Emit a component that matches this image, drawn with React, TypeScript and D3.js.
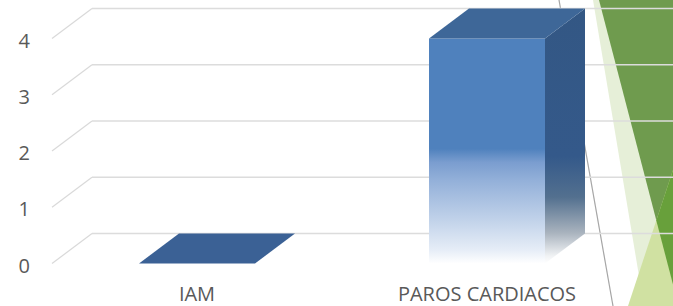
import React from "react";
import * as d3 from "d3";

const categories = ["IAM", "PAROS CARDIACOS"];
const values = [0, 4];
const yTicks = [0, 1, 2, 3, 4];

const W = 673;
const H = 306;
const DX = 40;
const DY = 30;

export default function App() {
  const x = d3.scaleBand<string>().domain(categories).range([52, 632]).paddingInner(0.6).paddingOuter(0.3);
  const y = d3.scaleLinear().domain([0, 4]).range([263.5, 38.5]);
  const bw = x.bandwidth();
  const y0 = y(0);
  const pts = (p: [number, number][]) => p.map((q) => q.join(",")).join(" ");
  const line = d3.line();

  // decorative slide background shapes (green facets)
  const lightBand: [number, number][] = [[593, 0], [700, 0], [700, 306], [644, 306]];
  const darkGreen: [number, number][] = [[599, 0], [700, 0], [700, 306], [678.6, 306]];
  const lowTri: [number, number][] = [[628, 306], [673, 170], [700, 306]];
  const lowTriDark: [number, number][] = [[656.3, 220.5], [673, 170], [673, 284.6]];

  return (
    <svg width={W} height={H} style={{ position: "absolute", left: 0, top: 0, background: "#ffffff" }}>
      <defs>
        <linearGradient id="frontGrad" x1="0" y1="0" x2="0" y2="1">
          <stop offset="0" stopColor="#4f81bd" />
          <stop offset="0.49" stopColor="#4f81bd" />
          <stop offset="0.55" stopColor="#7a9dcf" />
          <stop offset="0.63" stopColor="#93b0d9" />
          <stop offset="0.81" stopColor="#c2d3ea" />
          <stop offset="0.94" stopColor="#e6edf7" />
          <stop offset="1" stopColor="#ffffff" />
        </linearGradient>
        <linearGradient id="sideGrad" gradientUnits="userSpaceOnUse" x1="0" y1={y(4) - DY} x2="0" y2={y0}>
          <stop offset="0" stopColor="#335784" />
          <stop offset="0.58" stopColor="#34598a" />
          <stop offset="0.74" stopColor="#53708f" />
          <stop offset="0.88" stopColor="#a9b3be" />
          <stop offset="0.97" stopColor="#f0f2f4" />
          <stop offset="1" stopColor="#ffffff" />
        </linearGradient>
      </defs>

      <polygon points={pts(lightBand)} fill="#e6efd8" />
      <polygon points={pts(darkGreen)} fill="#6f9b4e" />
      <polygon points={pts(lowTri)} fill="#d0e1a2" />
      <polygon points={pts(lowTriDark)} fill="#68a03b" />

      <line x1={559} y1={0} x2={613} y2={306} stroke="#a6a6a6" strokeWidth={1.2} />

      {yTicks.map((t) => (
        <g key={t}>
          <path d={line([[52, y(t)], [52 + DX, y(t) - DY]]) || ""} stroke="#d9d9d9" strokeWidth={1.2} fill="none" />
          <path d={line([[52 + DX, y(t) - DY], [W, y(t) - DY]]) || ""} stroke="#dcdcdc" strokeWidth={1.5} fill="none" />
        </g>
      ))}

      {categories.map((c, i) => {
        const v = values[i];
        const x0 = x(c)!;
        const x1 = x0 + bw;
        const yv = y(v);
        return (
          <g key={c}>
            {v > 0 && (
              <>
                <rect x={x0} y={yv} width={bw} height={y0 - yv} fill="url(#frontGrad)" />
                <polygon
                  points={pts([[x1, yv], [x1 + DX, yv - DY], [x1 + DX, y0 - DY], [x1, y0]])}
                  fill="url(#sideGrad)"
                />
              </>
            )}
            <polygon
              points={pts([[x0, yv], [x1, yv], [x1 + DX, yv - DY], [x0 + DX, yv - DY]])}
              fill={v > 0 ? "#3e6798" : "#3b6195"}
            />
            <text
              x={x0 + bw / 2}
              y={300.5}
              textAnchor="middle"
              fontFamily="'Open Sans', sans-serif"
              fontSize={20}
              fill="#595959"
            >
              {c}
            </text>
          </g>
        );
      })}

      {yTicks.map((t) => (
        <text
          key={"l" + t}
          x={30}
          y={y(t) + 9}
          textAnchor="end"
          fontFamily="'Open Sans', sans-serif"
          fontSize={20}
          fill="#595959"
        >
          {t}
        </text>
      ))}
    </svg>
  );
}
